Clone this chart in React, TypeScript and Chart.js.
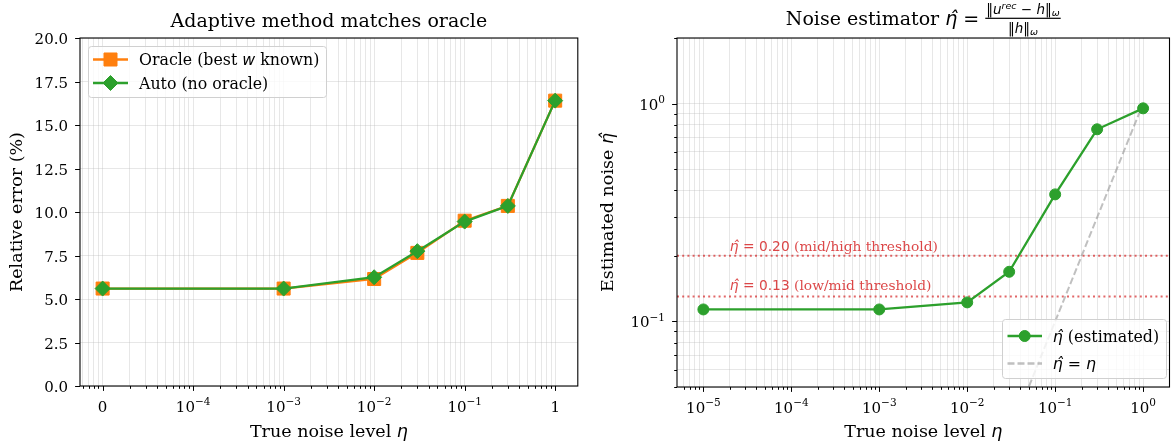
import React, { useEffect, useRef } from "react";
import { Chart, registerables } from "chart.js";
Chart.register(...registerables);

// ---------------- data ----------------
const noiseLevels = [1e-5, 1e-3, 1e-2, 3e-2, 1e-1, 3e-1, 1];
const oracleError = [5.6, 5.6, 6.15, 7.65, 9.5, 10.35, 16.4];
const autoError = [5.6, 5.6, 6.25, 7.75, 9.45, 10.35, 16.4];
const estimatedNoise = [0.1135, 0.1135, 0.1223, 0.169, 0.383, 0.762, 0.951];
const identityNoise = [1e-5, 1];
const thresholdValues = [0.2, 0.13];
const thresholdText = ["0.20", "0.13"];
const thresholdNames = ["(mid/high threshold)", "(low/mid threshold)"];
const errorTicks = [0, 2.5, 5, 7.5, 10, 12.5, 15, 17.5, 20];
const errorTickLabels = ["0.0", "2.5", "5.0", "7.5", "10.0", "12.5", "15.0", "17.5", "20.0"];
const leftXMajors = [1e-5, 1e-4, 1e-3, 1e-2, 1e-1, 1];
const leftXLabels = ["0", "10^-4", "10^-3", "10^-2", "10^-1", "1"];
const rightXMajors = [1e-5, 1e-4, 1e-3, 1e-2, 1e-1, 1];
const rightXLabels = ["10^-5", "10^-4", "10^-3", "10^-2", "10^-1", "10^0"];
const rightYMajors = [0.1, 1];
const rightYLabels = ["10^-1", "10^0"];

// ---------------- style ----------------
const ORANGE = "#ff7f0e";
const GREEN = "#2ca02c";
const RED_LINE = "rgba(214,39,40,0.7)";
const RED_TEXT = "rgba(214,39,40,0.85)";
const IDENT = "rgba(150,150,150,0.6)";
const GRID = "rgba(176,176,176,0.38)";
const SERIF = '"DejaVu Serif"';
const SANS = '"DejaVu Sans"';
const TICK = 15;
const LABEL = 17.5;
const TITLE = 19;
const LEG = 15.8;
const ANN = 13.8;
const LW = 2.3;
const HAT = "\u03B7\u0302";

const LX_MIN = Math.pow(10, -5.25);
const LX_MAX = Math.pow(10, 0.25);
const RX_MIN = Math.pow(10, -5.3);
const RX_MAX = Math.pow(10, 0.3);
const RY_MIN = 0.05;
const RY_MAX = 2;

const font = (size: number, fam = SERIF, style = "") => `${style} ${size}px ${fam}`.trim();

type Seg = { t: string; font: string; dy?: number };

function segsWidth(ctx: CanvasRenderingContext2D, segs: Seg[]) {
  let w = 0;
  for (const s of segs) {
    ctx.font = s.font;
    w += ctx.measureText(s.t).width;
  }
  return w;
}

function drawSegs(ctx: CanvasRenderingContext2D, segs: Seg[], x: number, y: number, align: string, color: string) {
  const w = segsWidth(ctx, segs);
  let cx = align === "left" ? x : align === "center" ? x - w / 2 : x - w;
  ctx.textAlign = "left";
  ctx.textBaseline = "alphabetic";
  ctx.fillStyle = color;
  for (const s of segs) {
    ctx.font = s.font;
    ctx.fillText(s.t, cx, y + (s.dy || 0));
    cx += ctx.measureText(s.t).width;
  }
  return w;
}

function tickSegs(label: string, size: number): Seg[] {
  const i = label.indexOf("^");
  if (i < 0) return [{ t: label, font: font(size) }];
  return [
    { t: label.slice(0, i), font: font(size) },
    { t: label.slice(i + 1).replace("-", "\u2212"), font: font(size * 0.7), dy: -size * 0.45 },
  ];
}

function logTicks(min: number, max: number) {
  const out: number[] = [];
  for (let e = Math.floor(Math.log10(min)); e <= Math.ceil(Math.log10(max)); e++) {
    for (let m = 1; m <= 9; m++) {
      const v = parseFloat((m * Math.pow(10, e)).toPrecision(10));
      if (v >= min * (1 - 1e-9) && v <= max * (1 + 1e-9)) out.push(v);
    }
  }
  return out;
}

const isMajor = (v: number, majors: number[]) => majors.some((m) => Math.abs(m - v) <= Math.abs(m) * 1e-6 + 1e-12);

function drawFrame(ctx: CanvasRenderingContext2D, a: any) {
  ctx.strokeStyle = "#000";
  ctx.lineWidth = 1.1;
  ctx.setLineDash([]);
  ctx.strokeRect(a.left, a.top, a.right - a.left, a.bottom - a.top);
}

function drawXAxis(ctx: CanvasRenderingContext2D, xs: any, a: any, majors: number[], labels: string[]) {
  ctx.strokeStyle = "#000";
  ctx.lineWidth = 1;
  for (const t of xs.ticks) {
    const px = Math.round(xs.getPixelForValue(t.value)) + 0.5;
    const len = isMajor(t.value, majors) ? 4.9 : 2.8;
    ctx.beginPath();
    ctx.moveTo(px, a.bottom);
    ctx.lineTo(px, a.bottom + len);
    ctx.stroke();
  }
  majors.forEach((v, i) => {
    const px = xs.getPixelForValue(v);
    drawSegs(ctx, tickSegs(labels[i], TICK), px, a.bottom + 25.5, "center", "#000");
  });
}

function drawYAxis(ctx: CanvasRenderingContext2D, ys: any, a: any, majors: number[], labels: string[]) {
  ctx.strokeStyle = "#000";
  ctx.lineWidth = 1;
  for (const t of ys.ticks) {
    const py = Math.round(ys.getPixelForValue(t.value)) + 0.5;
    const len = isMajor(t.value, majors) ? 4.9 : 2.8;
    ctx.beginPath();
    ctx.moveTo(a.left, py);
    ctx.lineTo(a.left - len, py);
    ctx.stroke();
  }
  majors.forEach((v, i) => {
    const py = ys.getPixelForValue(v);
    drawSegs(ctx, tickSegs(labels[i], TICK), a.left - 12, py + 6, "right", "#000");
  });
}

function drawRotated(ctx: CanvasRenderingContext2D, segs: Seg[], x: number, y: number) {
  ctx.save();
  ctx.translate(x, y);
  ctx.rotate(-Math.PI / 2);
  drawSegs(ctx, segs, 0, 0, "center", "#000");
  ctx.restore();
}

function legendBox(ctx: CanvasRenderingContext2D, x: number, y: number, w: number, h: number) {
  ctx.save();
  ctx.beginPath();
  const r = 3;
  ctx.moveTo(x + r, y);
  ctx.arcTo(x + w, y, x + w, y + h, r);
  ctx.arcTo(x + w, y + h, x, y + h, r);
  ctx.arcTo(x, y + h, x, y, r);
  ctx.arcTo(x, y, x + w, y, r);
  ctx.closePath();
  ctx.fillStyle = "rgba(255,255,255,0.8)";
  ctx.fill();
  ctx.strokeStyle = "#d0d0d0";
  ctx.lineWidth = 1;
  ctx.stroke();
  ctx.restore();
}

function marker(ctx: CanvasRenderingContext2D, style: string, x: number, y: number, r: number, color: string) {
  ctx.fillStyle = color;
  ctx.strokeStyle = color;
  ctx.lineWidth = 1;
  ctx.setLineDash([]);
  ctx.beginPath();
  if (style === "rect") {
    const s = r * Math.SQRT1_2;
    ctx.rect(x - s, y - s, 2 * s, 2 * s);
  } else if (style === "rectRot") {
    ctx.moveTo(x - r, y);
    ctx.lineTo(x, y - r);
    ctx.lineTo(x + r, y);
    ctx.lineTo(x, y + r);
    ctx.closePath();
  } else {
    ctx.arc(x, y, r, 0, Math.PI * 2);
  }
  ctx.fill();
  ctx.stroke();
}

function handleLine(ctx: CanvasRenderingContext2D, x0: number, x1: number, y: number, color: string, dash: number[]) {
  ctx.strokeStyle = color;
  ctx.lineWidth = LW;
  ctx.setLineDash(dash);
  ctx.beginPath();
  ctx.moveTo(x0, y);
  ctx.lineTo(x1, y);
  ctx.stroke();
  ctx.setLineDash([]);
}

const leftPlugin = {
  id: "mplLeft",
  afterDraw(chart: any) {
    const ctx: CanvasRenderingContext2D = chart.ctx;
    const a = chart.chartArea;
    ctx.save();
    drawFrame(ctx, a);
    drawXAxis(ctx, chart.scales.x, a, leftXMajors, leftXLabels);
    drawYAxis(ctx, chart.scales.y, a, errorTicks, errorTickLabels);
    const cx = (a.left + a.right) / 2;
    drawSegs(ctx, [{ t: "Adaptive method matches oracle", font: font(TITLE) }], cx, 27, "center", "#000");
    drawSegs(ctx, [{ t: "True noise level ", font: font(LABEL) }, { t: "\u03B7", font: font(LABEL, SANS, "italic") }], cx, 437, "center", "#000");
    drawRotated(ctx, [{ t: "Relative error (%)", font: font(LABEL) }], 22, (a.top + a.bottom) / 2);
    // legend
    const ds = chart.data.datasets;
    legendBox(ctx, 88.5, 46.5, 238, 51);
    const rows = [59.5, 83];
    ds.forEach((d: any, i: number) => {
      handleLine(ctx, 93, 128, rows[i], d.borderColor, []);
      marker(ctx, d.pointStyle, 110.5, rows[i], d.pointRadius, d.borderColor);
    });
    drawSegs(ctx, [
      { t: "Oracle (best ", font: font(LEG) },
      { t: "w", font: font(LEG, SANS, "italic") },
      { t: " known)", font: font(LEG) },
    ], 139, rows[0] + 5.5, "left", "#000");
    drawSegs(ctx, [{ t: "Auto (no oracle)", font: font(LEG) }], 139, rows[1] + 5.5, "left", "#000");
    ctx.restore();
  },
};

function drawFractionTitle(ctx: CanvasRenderingContext2D, cx: number, base: number) {
  const big = TITLE;
  const sm = 13.5;
  const tiny = 9.5;
  const head: Seg[] = [
    { t: "Noise estimator ", font: font(big) },
    { t: HAT, font: font(big, SANS, "italic") },
    { t: " = ", font: font(big, SANS) },
  ];
  const num: Seg[] = [
    { t: "\u2016", font: font(sm, SANS) },
    { t: "u", font: font(sm, SANS, "italic") },
    { t: "rec", font: font(tiny, SANS, "italic"), dy: -5 },
    { t: " \u2212 ", font: font(sm, SANS) },
    { t: "h", font: font(sm, SANS, "italic") },
    { t: "\u2016", font: font(sm, SANS) },
    { t: "\u03C9", font: font(tiny, SANS, "italic"), dy: 2 },
  ];
  const den: Seg[] = [
    { t: "\u2016", font: font(sm, SANS) },
    { t: "h", font: font(sm, SANS, "italic") },
    { t: "\u2016", font: font(sm, SANS) },
    { t: "\u03C9", font: font(tiny, SANS, "italic"), dy: 2 },
  ];
  const hw = segsWidth(ctx, head);
  const nw = segsWidth(ctx, num);
  const barW = nw + 2;
  const total = hw + barW;
  const x0 = cx - total / 2;
  drawSegs(ctx, head, x0, base, "left", "#000");
  const fx = x0 + hw + barW / 2;
  const barY = base - 6.7;
  drawSegs(ctx, num, fx, barY - 4.3, "center", "#000");
  drawSegs(ctx, den, fx, barY + 14.5, "center", "#000");
  ctx.fillStyle = "#000";
  ctx.fillRect(x0 + hw, barY - 0.6, barW, 1.2);
}

const rightPlugin = {
  id: "mplRight",
  beforeDatasetsDraw(chart: any) {
    const ctx: CanvasRenderingContext2D = chart.ctx;
    const a = chart.chartArea;
    const ys = chart.scales.y;
    ctx.save();
    ctx.strokeStyle = RED_LINE;
    ctx.lineWidth = 2;
    ctx.setLineDash([2, 3.2]);
    thresholdValues.forEach((v) => {
      const py = ys.getPixelForValue(v);
      ctx.beginPath();
      ctx.moveTo(a.left, py);
      ctx.lineTo(a.right, py);
      ctx.stroke();
    });
    ctx.restore();
  },
  afterDraw(chart: any) {
    const ctx: CanvasRenderingContext2D = chart.ctx;
    const a = chart.chartArea;
    const xs = chart.scales.x;
    const ys = chart.scales.y;
    ctx.save();
    // threshold annotations
    thresholdValues.forEach((v, i) => {
      const px = xs.getPixelForValue(2e-5);
      const py = ys.getPixelForValue(v + 0.01);
      drawSegs(ctx, [
        { t: HAT, font: font(ANN, SANS, "italic") },
        { t: " = " + thresholdText[i], font: font(ANN, SANS) },
        { t: " " + thresholdNames[i], font: font(ANN) },
      ], px, py, "left", RED_TEXT);
    });
    drawFrame(ctx, a);
    drawXAxis(ctx, xs, a, rightXMajors, rightXLabels);
    drawYAxis(ctx, ys, a, rightYMajors, rightYLabels);
    const cx = (a.left + a.right) / 2;
    drawFractionTitle(ctx, cx, 25);
    drawSegs(ctx, [{ t: "True noise level ", font: font(LABEL) }, { t: "\u03B7", font: font(LABEL, SANS, "italic") }], cx, 437, "center", "#000");
    drawRotated(ctx, [{ t: "Estimated noise ", font: font(LABEL) }, { t: HAT, font: font(LABEL, SANS, "italic") }], 25, (a.top + a.bottom) / 2);
    // legend
    const ds = chart.data.datasets;
    legendBox(ctx, 414.5, 319.5, 164, 59);
    const rows = [336, 363.5];
    handleLine(ctx, 419.5, 454, rows[0], ds[0].borderColor, []);
    marker(ctx, "circle", 436.7, rows[0], ds[0].pointRadius, ds[0].borderColor);
    handleLine(ctx, 419.5, 454, rows[1], ds[1].borderColor, ds[1].borderDash);
    drawSegs(ctx, [{ t: HAT, font: font(LEG, SANS, "italic") }, { t: " (estimated)", font: font(LEG) }], 464.7, rows[0] + 5.5, "left", "#000");
    drawSegs(ctx, [
      { t: HAT, font: font(LEG, SANS, "italic") },
      { t: " = ", font: font(LEG, SANS) },
      { t: "\u03B7", font: font(LEG, SANS, "italic") },
    ], 464.7, rows[1] + 5.5, "left", "#000");
    ctx.restore();
  },
};

function gridOpts() {
  return { color: GRID, lineWidth: 0.8, drawTicks: false };
}

function leftConfig(): any {
  return {
    type: "line",
    data: {
      datasets: [
        {
          label: "Oracle (best w known)",
          data: noiseLevels.map((x, i) => ({ x, y: oracleError[i] })),
          borderColor: ORANGE,
          backgroundColor: ORANGE,
          borderWidth: LW,
          pointStyle: "rect",
          pointRadius: 9.2,
          pointBorderWidth: 1,
          order: 2,
        },
        {
          label: "Auto (no oracle)",
          data: noiseLevels.map((x, i) => ({ x, y: autoError[i] })),
          borderColor: GREEN,
          backgroundColor: GREEN,
          borderWidth: LW,
          pointStyle: "rectRot",
          pointRadius: 7.5,
          pointBorderWidth: 1,
          order: 1,
        },
      ],
    },
    options: {
      responsive: false,
      animation: false,
      devicePixelRatio: 1,
      layout: { padding: { top: 38, right: 10, left: 0, bottom: 0 } },
      plugins: { legend: { display: false }, tooltip: { enabled: false }, title: { display: false } },
      scales: {
        x: {
          type: "logarithmic",
          min: LX_MIN,
          max: LX_MAX,
          bounds: "data",
          afterBuildTicks: (s: any) => { s.ticks = logTicks(LX_MIN, LX_MAX).map((v) => ({ value: v })); },
          afterFit: (s: any) => { s.height = 55; },
          ticks: { display: false, autoSkip: false },
          grid: gridOpts(),
          border: { display: false },
        },
        y: {
          type: "linear",
          min: 0,
          max: 20,
          afterBuildTicks: (s: any) => { s.ticks = errorTicks.map((v) => ({ value: v })); },
          afterFit: (s: any) => { s.width = 80; },
          ticks: { display: false, autoSkip: false },
          grid: gridOpts(),
          border: { display: false },
        },
      },
    },
    plugins: [leftPlugin],
  };
}

function rightConfig(): any {
  return {
    type: "line",
    data: {
      datasets: [
        {
          label: "estimated",
          data: noiseLevels.map((x, i) => ({ x, y: estimatedNoise[i] })),
          borderColor: GREEN,
          backgroundColor: GREEN,
          borderWidth: LW,
          pointStyle: "circle",
          pointRadius: 5.5,
          pointBorderWidth: 1,
          order: 1,
        },
        {
          label: "identity",
          data: identityNoise.map((v) => ({ x: v, y: v })),
          borderColor: IDENT,
          borderWidth: 2,
          borderDash: [7, 3],
          pointRadius: 0,
          order: 2,
        },
      ],
    },
    options: {
      responsive: false,
      animation: false,
      devicePixelRatio: 1,
      layout: { padding: { top: 38, right: 1, left: 0, bottom: 0 } },
      plugins: { legend: { display: false }, tooltip: { enabled: false }, title: { display: false } },
      scales: {
        x: {
          type: "logarithmic",
          min: RX_MIN,
          max: RX_MAX,
          bounds: "data",
          afterBuildTicks: (s: any) => { s.ticks = logTicks(RX_MIN, RX_MAX).map((v) => ({ value: v })); },
          afterFit: (s: any) => { s.height = 54; },
          ticks: { display: false, autoSkip: false },
          grid: gridOpts(),
          border: { display: false },
        },
        y: {
          type: "logarithmic",
          min: RY_MIN,
          max: RY_MAX,
          bounds: "data",
          afterBuildTicks: (s: any) => { s.ticks = logTicks(RY_MIN, RY_MAX).map((v) => ({ value: v })); },
          afterFit: (s: any) => { s.width = 89; },
          ticks: { display: false, autoSkip: false },
          grid: gridOpts(),
          border: { display: false },
        },
      },
    },
    plugins: [rightPlugin],
  };
}

export default function App() {
  const leftRef = useRef<HTMLCanvasElement>(null);
  const rightRef = useRef<HTMLCanvasElement>(null);
  useEffect(() => {
    const c1 = new Chart(leftRef.current as HTMLCanvasElement, leftConfig());
    const c2 = new Chart(rightRef.current as HTMLCanvasElement, rightConfig());
    return () => {
      c1.destroy();
      c2.destroy();
    };
  }, []);
  return (
    <div style={{ position: "absolute", left: 0, top: 0, width: 1176, height: 441, background: "#fff" }}>
      <canvas ref={leftRef} width={588} height={441} style={{ position: "absolute", left: 0, top: 0, width: 588, height: 441 }} />
      <canvas ref={rightRef} width={588} height={441} style={{ position: "absolute", left: 588, top: 0, width: 588, height: 441 }} />
    </div>
  );
}
